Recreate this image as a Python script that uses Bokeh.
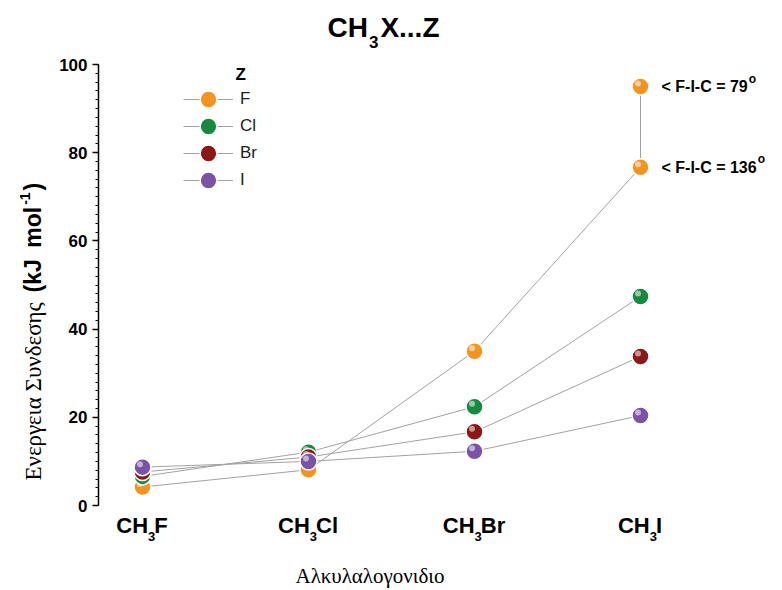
import math
from bokeh.plotting import figure
from bokeh.core.properties import value
from bokeh.models import (Range1d, FixedTicker, Label, LabelSet, ColumnDataSource,
                          Legend, LegendItem)
from bokeh.embed import file_html
from bokeh.resources import INLINE

# ---------------- data ----------------
categories = ["CH3F", "CH3Cl", "CH3Br", "CH3I"]
cat_prefix = ["CH", "CH", "CH", "CH"]
cat_sub = ["3", "3", "3", "3"]
cat_suffix = ["F", "Cl", "Br", "I"]

series_names = ["F", "Cl", "Br", "I"]
F_vals = [4.2, 8.1, 35.0, 76.7]
Cl_vals = [6.6, 12.1, 22.4, 47.4]
Br_vals = [7.6, 11.0, 16.7, 33.8]
I_vals = [8.7, 10.0, 12.3, 20.4]
F_extra = 95.0            # CH3I...F, angle F-I-C = 79 deg
angle_values = [95.0, 76.7]
angle_labels = ["< F-I-C = 79", "< F-I-C = 136"]
y_ticks = [0, 20, 40, 60, 80, 100]
minor_ticks = list(range(0, 101, 2))

colors = {"F": "#F39422", "Cl": "#18893F", "Br": "#8C1717", "I": "#7853A6"}

title_parts = ["CH", "3", "X...Z"]
x_title = "Αλκυλαλογονιδιο"
y_title_greek = "Ενεργεια Συνδεσης"
y_title_unit = ["(kJ", "mol"]
y_title_sup = "-1"
y_title_close = ")"

# Arial / Liberation Sans Bold advance widths (em)
BW = {"C": .722, "H": .722, "F": .611, "l": .278, "B": .722, "r": .389, "I": .278,
      "X": .667, ".": .278, "Z": .611, "3": .556, " ": .278, "<": .584, "-": .333,
      "=": .584, "7": .556, "9": .556, "1": .556, "6": .556, "(": .333, "k": .556,
      "J": .556, "m": .889, "o": .611, ")": .333}


def tw(s, size):
    return sum(BW.get(c, .556) for c in s) * size


# ---------------- figure (frame = whole canvas) ----------------
W, H = 782, 590
PX_X, PX_Y = 166.0, 4.41          # pixels per category step / per kJ mol-1
X_ORG, Y_ORG = 142.0, 505.0       # canvas pixel of category 0 / value 0
x0, x1 = (0 - X_ORG) / PX_X, (W - X_ORG) / PX_X
y0, y1 = (Y_ORG - H) / PX_Y, Y_ORG / PX_Y
KB = 0.36   # label anchor -> baseline correction (fraction of font size)


def sy(page_y):
    return H - page_y


def by(page_baseline, size):
    """screen y for a horizontal label whose baseline should sit at page_baseline"""
    return H - (page_baseline - KB * size)


def bx(page_baseline, size):
    """screen x for a 90deg rotated label whose baseline should sit at page_baseline"""
    return page_baseline - KB * size


p = figure(width=W, height=H, output_backend="svg", toolbar_location=None,
           x_range=Range1d(x0, x1), y_range=Range1d(y0, y1),
           min_border=0, min_border_left=0, min_border_right=0,
           min_border_top=0, min_border_bottom=0)
p.xaxis.visible = False
p.grid.visible = False
p.outline_line_color = None
p.background_fill_color = "white"

ya = p.yaxis[0]
ya.fixed_location = (98 - X_ORG) / PX_X
ya.bounds = (y_ticks[0], y_ticks[-1])
ya.ticker = FixedTicker(ticks=y_ticks, minor_ticks=minor_ticks)
ya.major_tick_out = 6
ya.major_tick_in = 0
ya.minor_tick_out = 3
ya.minor_tick_in = 0
ya.axis_line_width = 1.5
ya.major_tick_line_width = 1.5
ya.minor_tick_line_width = 1.2
ya.major_label_text_font = "Liberation Sans"
ya.major_label_text_font_style = "bold"
ya.major_label_text_font_size = "17px"
ya.major_label_text_color = "black"
ya.major_label_standoff = 5

hx = -2.5 / PX_X
hy = 3.0 / PX_Y

xs = list(range(len(categories)))
vals = {"F": F_vals, "Cl": Cl_vals, "Br": Br_vals, "I": I_vals}
line_col = "#a2a2a2"

legend_items = []
p.line(x=[xs[3], xs[3]], y=[F_vals[3], F_extra], line_color=line_col, line_width=1)

for name in series_names:
    yv = vals[name]
    c = colors[name]
    lr = p.line(x=xs, y=yv, line_color=line_col, line_width=1)
    mx = list(xs)
    my = list(yv)
    if name == "F":
        mx = mx + [xs[3]]
        my = my + [F_extra]
    sr = p.scatter(x=mx, y=my, size=17, fill_color=c, line_color="white",
                   line_width=1.5)
    p.scatter(x=[v + hx for v in mx], y=[v + hy for v in my], size=6,
              fill_color="white", fill_alpha=0.55, line_color=None)
    legend_items.append(LegendItem(label=name, renderers=[lr, sr]))

# one legend per entry so rows can be closer than the glyph box
for k, item in enumerate(legend_items):
    row_c = 99 + 27 * k
    lg = Legend(items=[item], location=(183, sy(row_c + 21)), glyph_width=50,
                glyph_height=42, label_height=20, spacing=0, label_standoff=7,
                padding=0, margin=0, border_line_color=None,
                background_fill_alpha=0, label_text_font="Liberation Sans",
                label_text_font_size="17px", label_text_color="#222222")
    p.add_layout(lg)

p.add_layout(Label(x=235, y=by(80, 17), x_units="screen", y_units="screen", text="Z",
                   text_baseline="alphabetic",
                   text_font="Liberation Sans", text_font_style="bold",
                   text_font_size="17px", text_color="black"))

# ---------------- annotations at CH3I ----------------
ann_size = 16
ann_x = [xs[3]] * len(angle_values)
src_ann = ColumnDataSource(dict(x=ann_x, y=angle_values, text=angle_labels))
p.add_layout(LabelSet(x="x", y="y", text="text", source=src_ann, x_offset=21,
                      text_baseline="middle", text_font=value("Liberation Sans"),
                      text_font_style="bold", text_font_size=f"{ann_size}px",
                      text_color="black"))
src_deg = ColumnDataSource(dict(x=ann_x, y=angle_values, text=["o"] * len(angle_values),
                                xo=[21 + tw(t, ann_size) + 1 for t in angle_labels]))
p.add_layout(LabelSet(x="x", y="y", text="text", source=src_deg, x_offset="xo",
                      y_offset=8, text_baseline="middle",
                      text_font=value("Liberation Sans"), text_font_style="bold",
                      text_font_size="12px", text_color="black"))

# ---------------- category labels (CH3X with subscript) ----------------
cs, ss = 22, 13
for i, (a, b, c) in enumerate(zip(cat_prefix, cat_sub, cat_suffix)):
    wa, wb, wc = tw(a, cs), tw(b, ss), tw(c, cs)
    start = -(wa + wb + wc) / 2
    common = dict(y_units="screen", text_font="Liberation Sans",
                  text_baseline="alphabetic",
                  text_font_style="bold", text_color="black")
    p.add_layout(Label(x=xs[i], y=by(533, cs), x_offset=start, text=a,
                       text_font_size=f"{cs}px", **common))
    p.add_layout(Label(x=xs[i], y=by(541, ss), x_offset=start + wa, text=b,
                       text_font_size=f"{ss}px", **common))
    p.add_layout(Label(x=xs[i], y=by(533, cs), x_offset=start + wa + wb - 1, text=c,
                       text_font_size=f"{cs}px", **common))

# ---------------- title ----------------
ts, tss = 28, 17
tx = 327
tcommon = dict(x_units="screen", y_units="screen", text_font="Liberation Sans",
               text_baseline="alphabetic",
               text_font_style="bold", text_color="black")
p.add_layout(Label(x=tx, y=by(37, ts), text=title_parts[0],
                   text_font_size=f"{ts}px", **tcommon))
p.add_layout(Label(x=tx + tw(title_parts[0], ts) + 1, y=by(48, tss), text=title_parts[1],
                   text_font_size=f"{tss}px", **tcommon))
p.add_layout(Label(x=tx + tw(title_parts[0], ts) + tw(title_parts[1], tss) + 3,
                   y=by(37, ts), text=title_parts[2], text_font_size=f"{ts}px",
                   **tcommon))

# ---------------- axis titles ----------------
xts = 21
p.add_layout(Label(x=295, y=by(583, xts), x_units="screen", y_units="screen",
                   text=x_title, text_align="left", text_baseline="alphabetic",
                   text_font="Liberation Serif",
                   text_font_size=f"{xts}px", text_color="black"))

ang = math.pi / 2
gs = 23
p.add_layout(Label(x=bx(41, gs), y=sy(480), x_units="screen", y_units="screen",
                   angle=ang, text=y_title_greek, text_font="Liberation Serif",
                   text_baseline="alphabetic",
                   text_font_size=f"{gs}px", text_color="black"))
us, sps = 23, 14
ucommon = dict(x_units="screen", y_units="screen", angle=ang,
               text_font="Liberation Sans", text_font_style="bold",
               text_baseline="alphabetic", text_color="black")
u1 = sy(292)
p.add_layout(Label(x=bx(41, us), y=u1, text=y_title_unit[0],
                   text_font_size=f"{us}px", **ucommon))
u2 = u1 + tw(y_title_unit[0], us) + 0.5 * us
p.add_layout(Label(x=bx(41, us), y=u2, text=y_title_unit[1],
                   text_font_size=f"{us}px", **ucommon))
sup_y = u2 + tw(y_title_unit[1], us) + 2
p.add_layout(Label(x=bx(30, sps), y=sup_y, text=y_title_sup,
                   text_font_size=f"{sps}px", **ucommon))
cl_y = sup_y + tw(y_title_sup, sps) + 2
p.add_layout(Label(x=bx(41, us), y=cl_y, text=y_title_close,
                   text_font_size=f"{us}px", **ucommon))

open("out.html", "w").write(file_html(p, INLINE))
